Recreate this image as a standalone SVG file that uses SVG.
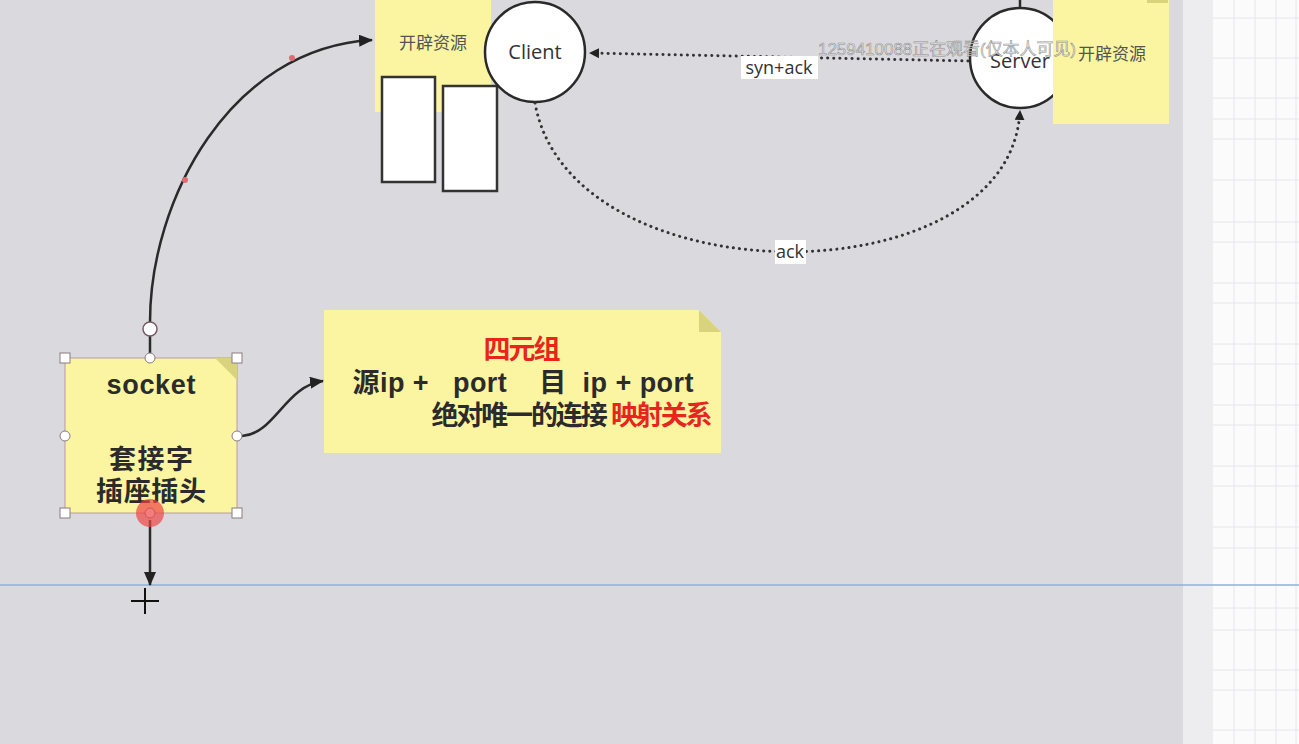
<svg xmlns="http://www.w3.org/2000/svg" width="1299" height="744" viewBox="0 0 1299 744">
<defs>
<style>
.note{fill:#fbf5a1;}
.fold{fill:#d9d37e;}
.box{fill:#fff;stroke:#333;stroke-width:2.5;}
.circ{fill:#fff;stroke:#2a2a2a;stroke-width:2.5;}
.lbl{font-family:"Open Sans","Noto Sans","Noto Sans CJK SC",sans-serif;fill:#333;text-anchor:middle;}
.cjk{font-family:"Noto Sans CJK SC","Noto Sans",sans-serif;text-anchor:middle;}
.bold{font-family:"Liberation Sans","Noto Sans CJK SC",sans-serif;font-weight:bold;fill:#2b2b2b;text-anchor:middle;font-size:27px;}
.solid{fill:none;stroke:#2a2a2a;stroke-width:2.5;}
.dot{fill:none;stroke:#333;stroke-width:3;stroke-dasharray:0.1 6;stroke-linecap:round;}
.hsq{fill:#fff;stroke:#8a7a80;stroke-width:1;}
.hci{fill:#fff;stroke:#8a7a80;stroke-width:1;}
.grid{stroke:#e6e6ea;stroke-width:1;}
.wm{font-family:"Liberation Sans","Noto Sans CJK SC",sans-serif;}
</style>
<marker id="arr" viewBox="0 0 10 10" refX="9" refY="5" markerWidth="10" markerHeight="10" markerUnits="userSpaceOnUse" orient="auto">
<path d="M0,0 L10,5 L0,10 Z" fill="#222"/>
</marker>
<marker id="arrL" viewBox="0 0 14 12" refX="13" refY="6" markerWidth="14" markerHeight="12" markerUnits="userSpaceOnUse" orient="auto">
<path d="M0,0 L14,6 L0,12 Z" fill="#222"/>
</marker>
</defs>

<rect x="0" y="0" width="1299" height="744" fill="#dadade"/>
<rect x="1183" y="0" width="30" height="744" fill="#ededf0"/>
<rect x="1213" y="0" width="86" height="744" fill="#fbfbfc"/>
<g class="grid">
<line x1="1213" y1="18" x2="1299" y2="18"/><line x1="1213" y1="58" x2="1299" y2="58"/>
<line x1="1213" y1="98" x2="1299" y2="98"/><line x1="1213" y1="119" x2="1299" y2="119"/>
<line x1="1213" y1="139" x2="1299" y2="139"/><line x1="1213" y1="180" x2="1299" y2="180"/>
<line x1="1213" y1="222" x2="1299" y2="222"/><line x1="1213" y1="242" x2="1299" y2="242"/>
<line x1="1213" y1="283" x2="1299" y2="283"/><line x1="1213" y1="303" x2="1299" y2="303"/>
<line x1="1213" y1="344" x2="1299" y2="344"/><line x1="1213" y1="364" x2="1299" y2="364"/>
<line x1="1213" y1="405" x2="1299" y2="405"/><line x1="1213" y1="425" x2="1299" y2="425"/>
<line x1="1213" y1="466" x2="1299" y2="466"/><line x1="1213" y1="486" x2="1299" y2="486"/>
<line x1="1213" y1="527" x2="1299" y2="527"/><line x1="1213" y1="548" x2="1299" y2="548"/>
<line x1="1213" y1="608" x2="1299" y2="608"/><line x1="1213" y1="630" x2="1299" y2="630"/>
<line x1="1213" y1="670" x2="1299" y2="670"/><line x1="1213" y1="690" x2="1299" y2="690"/>
<line x1="1213" y1="730" x2="1299" y2="730"/>
<line x1="1234" y1="0" x2="1234" y2="744"/><line x1="1255" y1="0" x2="1255" y2="744"/>
<line x1="1276" y1="0" x2="1276" y2="744"/><line x1="1296" y1="0" x2="1296" y2="744"/>
</g>
<line x1="0" y1="585" x2="1299" y2="585" stroke="#8fb1d9" stroke-width="1.5"/>

<g id="client-res">
<rect class="note" x="375" y="0" width="116" height="112"/>
<text class="cjk" x="433" y="49" font-size="17" fill="#555">开辟资源</text>
<rect class="box" x="382" y="77" width="53" height="105"/>
<rect class="box" x="443" y="86" width="54" height="105"/>
</g>

<g id="client">
<circle class="circ" cx="535" cy="52" r="50"/>
<text class="lbl" x="535" y="59" font-size="20">Client</text>
</g>

<g id="server">
<line x1="1020" y1="0" x2="1020" y2="8" stroke="#2a2a2a" stroke-width="2.5"/>
<circle class="circ" cx="1020" cy="58" r="50"/>
<text class="lbl" x="1020" y="68" font-size="20">Server</text>
</g>

<g id="server-res">
<rect class="note" x="1053" y="0" width="116" height="124"/>
<rect class="fold" x="1147" y="0" width="21" height="3"/>
<text class="cjk" x="1112" y="60" font-size="17" fill="#555">开辟资源</text>
</g>

<g id="connectors">
<path class="dot" d="M968,61 L590,53" marker-end="url(#arr)"/>
<path class="dot" d="M535,103 C570,300 1010,300 1020,111" marker-end="url(#arr)"/>
<path class="solid" d="M150,358 L150,336"/>
<path class="solid" d="M150,322 C150,200 230,48 372,40" marker-end="url(#arrL)"/>
<path class="solid" d="M242,436 C275,434 285,386 323,381" marker-end="url(#arrL)"/>
<path class="solid" d="M150,520 L150,585" marker-end="url(#arrL)"/>
<circle cx="292" cy="58" r="3" fill="#e06b70"/>
<circle cx="185" cy="180" r="3" fill="#e06b70"/>
<circle cx="150" cy="329" r="7" fill="#fff" stroke="#7a5a62" stroke-width="1.5"/>
<rect x="741" y="56" width="77" height="23" fill="#fff"/>
<text class="lbl" x="779" y="74" font-size="18">syn+ack</text>
<rect x="775" y="240" width="31" height="24" fill="#fff"/>
<text class="lbl" x="790" y="258" font-size="18">ack</text>
</g>

<g id="socket">
<rect class="note" x="65" y="358" width="172" height="155" stroke="#b89aa0" stroke-width="1"/>
<path class="fold" d="M215,358 L237,380 L237,358 Z"/>
<text class="bold" x="151" y="394" font-size="26" textLength="89" lengthAdjust="spacing">socket</text>
<text class="bold" x="151" y="469" font-size="26" textLength="84" lengthAdjust="spacing">套接字</text>
<text class="bold" x="151" y="501" font-size="26" textLength="110" lengthAdjust="spacing">插座插头</text>
<rect class="hsq" x="60" y="353" width="10" height="10"/>
<rect class="hsq" x="232" y="353" width="10" height="10"/>
<rect class="hsq" x="60" y="508" width="10" height="10"/>
<rect class="hsq" x="232" y="508" width="10" height="10"/>
<circle class="hci" cx="150" cy="358" r="5"/>
<circle class="hci" cx="65" cy="436" r="5"/>
<circle class="hci" cx="237" cy="436" r="5"/>
<circle class="hci" cx="150" cy="513" r="5"/>
<circle cx="150" cy="513" r="14" fill="#ee4444" fill-opacity="0.7"/>
</g>

<g id="tuple">
<path class="note" d="M324,310 L699,310 L721,332 L721,453 L324,453 Z"/>
<path class="fold" d="M699,310 L721,332 L699,332 Z"/>
<text class="bold" x="522" y="359" style="fill:#e8241c" font-size="25" textLength="77" lengthAdjust="spacing">四元组</text>
<text class="bold" x="523" y="392" font-size="25" textLength="341" lengthAdjust="spacing" xml:space="preserve">源ip +   port    目  ip + port</text>
<text class="bold" x="572" y="425" font-size="25" textLength="281" lengthAdjust="spacing"><tspan>绝对唯一的连接 </tspan><tspan style="fill:#e8241c">映射关系</tspan></text>
</g>

<g id="cursor" stroke="#111" stroke-width="2">
<line x1="131" y1="601" x2="159" y2="601"/>
<line x1="145" y1="588" x2="145" y2="614"/>
</g>

<text class="wm" x="818" y="55" font-size="17" textLength="258" lengthAdjust="spacingAndGlyphs" fill="#e8e8e8" fill-opacity="0.85" stroke="#6a6a6a" stroke-width="0.6" stroke-opacity="0.7">1259410088正在观看(仅本人可见)</text>
</svg>
